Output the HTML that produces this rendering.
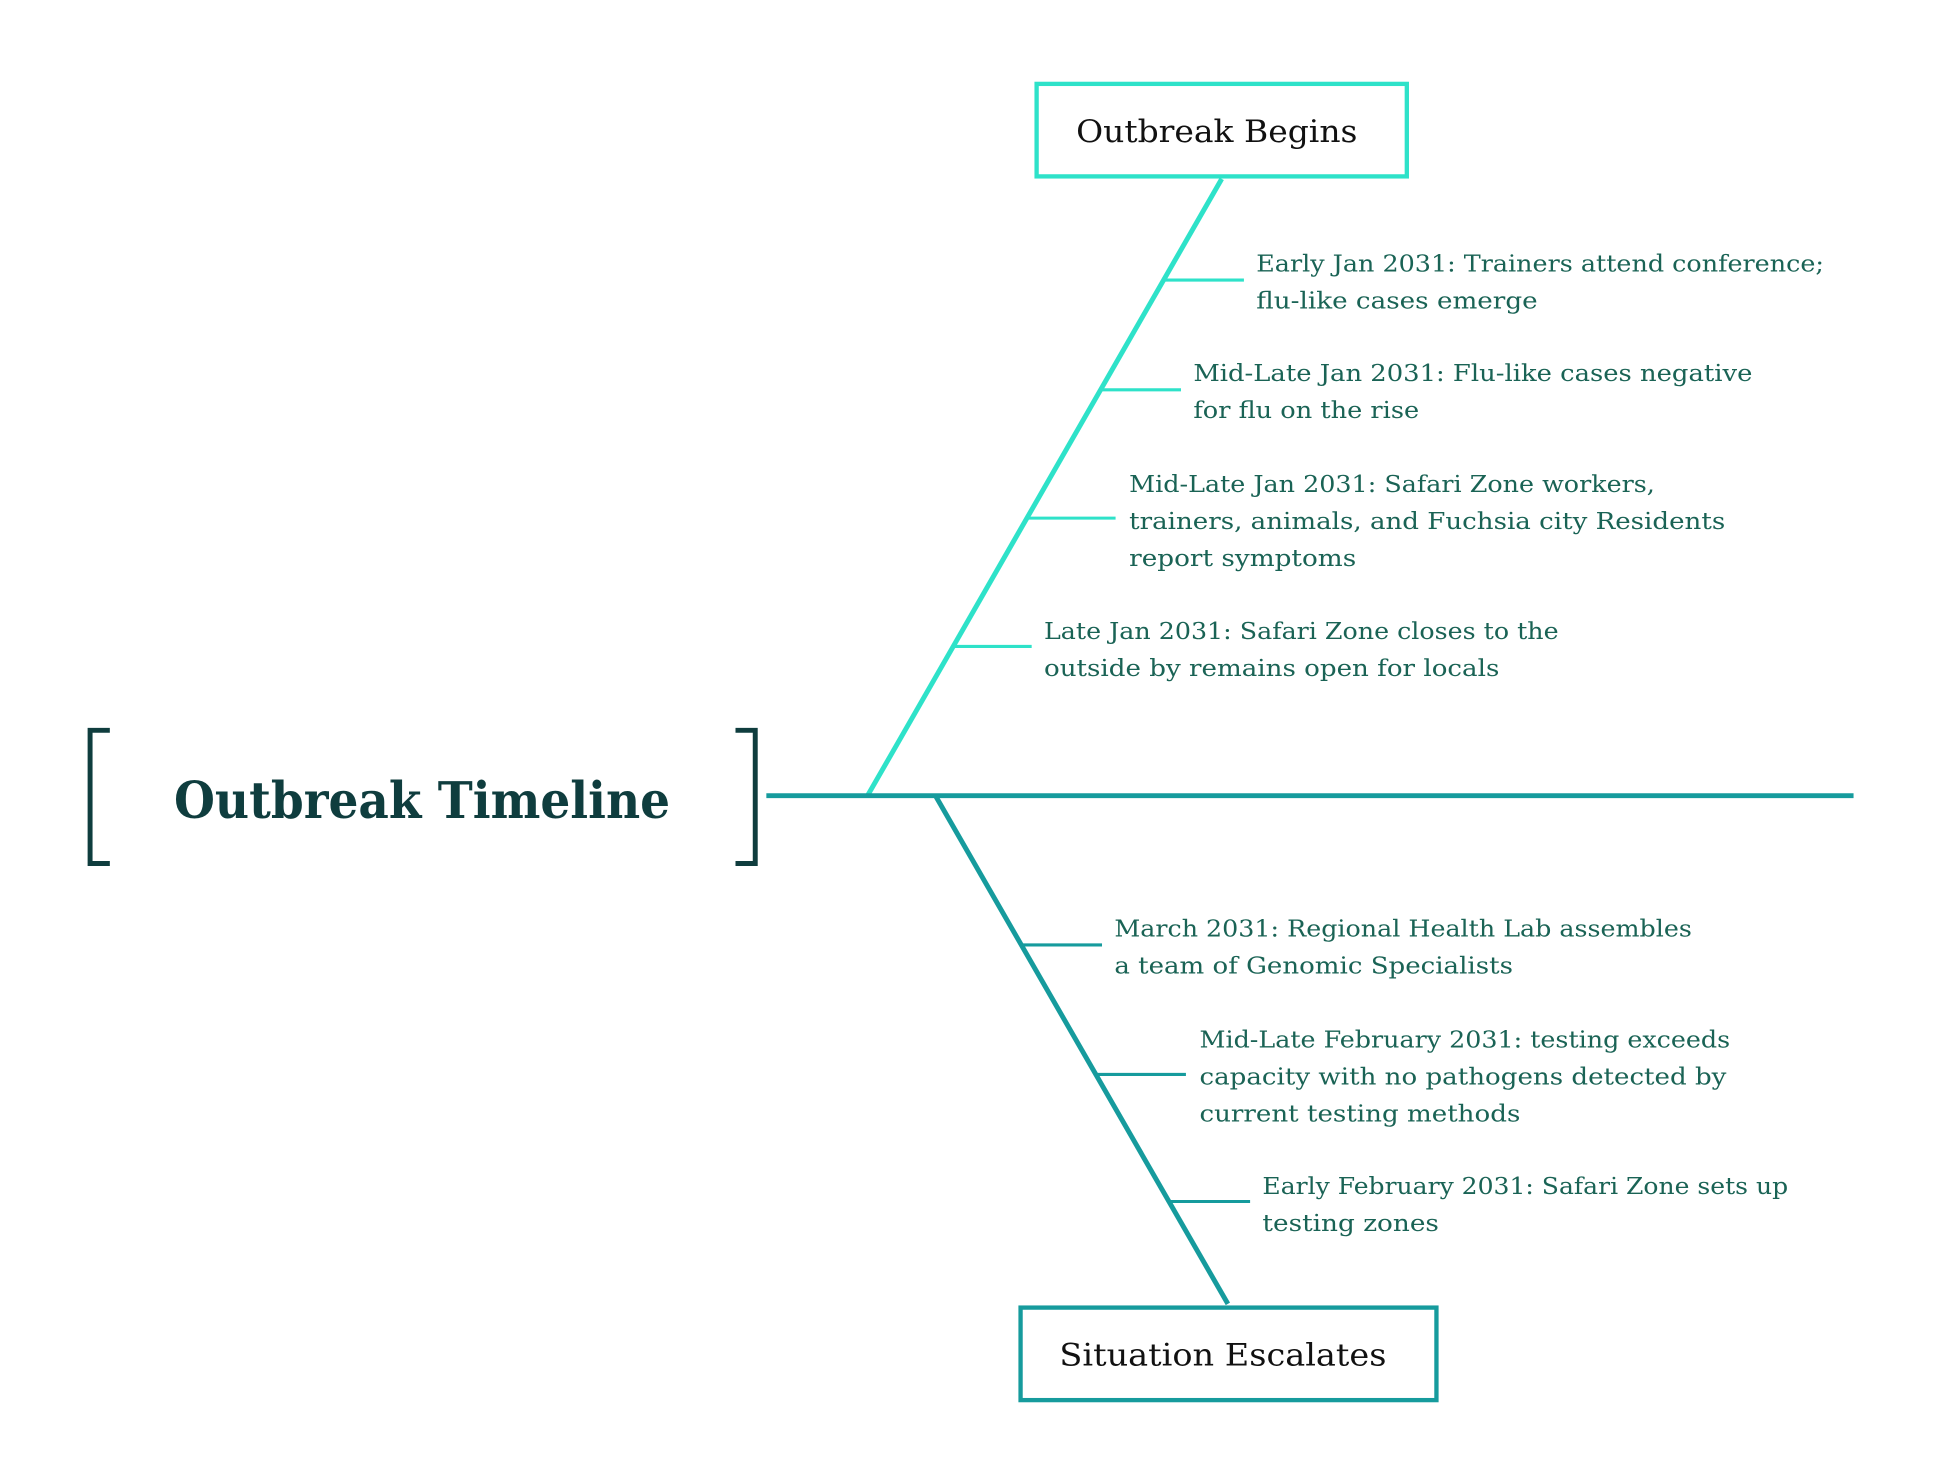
<!DOCTYPE html>
<html><head><style>html,body{margin:0;padding:0;background:#fff;}svg{display:block}</style></head>
<body>
<svg width="1935" height="1484" viewBox="0 0 1568 1203" preserveAspectRatio="none" xmlns="http://www.w3.org/2000/svg">
<g fill="none" stroke-linecap="butt">
<rect x="840" y="68" width="300" height="75" stroke="#2ee2c9" stroke-width="3.5"/>
<rect x="827" y="1060" width="337" height="75" stroke="#169b9d" stroke-width="3.5"/>
<line x1="990" y1="145" x2="703" y2="645" stroke="#2ee2c9" stroke-width="4"/>
<line x1="944" y1="227" x2="1008" y2="227" stroke="#2ee2c9" stroke-width="2.5"/>
<line x1="892" y1="316" x2="957" y2="316" stroke="#2ee2c9" stroke-width="2.5"/>
<line x1="832" y1="420" x2="904" y2="420" stroke="#2ee2c9" stroke-width="2.5"/>
<line x1="772" y1="524" x2="836" y2="524" stroke="#2ee2c9" stroke-width="2.5"/>
<line x1="621" y1="645" x2="1502" y2="645" stroke="#169b9d" stroke-width="4"/>
<line x1="758" y1="645" x2="995" y2="1057" stroke="#169b9d" stroke-width="4"/>
<line x1="829" y1="766" x2="893" y2="766" stroke="#169b9d" stroke-width="2.5"/>
<line x1="889" y1="871" x2="961" y2="871" stroke="#169b9d" stroke-width="2.5"/>
<line x1="948" y1="974" x2="1013" y2="974" stroke="#169b9d" stroke-width="2.5"/>
<polyline points="89,592 73,592 73,700 89,700" stroke="#0f3d3e" stroke-width="4"/>
<polyline points="596,592 612,592 612,700 596,700" stroke="#0f3d3e" stroke-width="4"/>
</g>
<g font-family="'DejaVu Serif','Liberation Serif',serif">
<text x="141" y="663" font-size="41" font-weight="bold" fill="#0f3d3e" textLength="402" lengthAdjust="spacingAndGlyphs">Outbreak Timeline</text>
<text x="986" y="115" font-size="25" fill="#111" text-anchor="middle" textLength="228" lengthAdjust="spacingAndGlyphs">Outbreak Begins</text>
<text x="991" y="1107" font-size="25" fill="#111" text-anchor="middle" textLength="265" lengthAdjust="spacingAndGlyphs">Situation Escalates</text>
</g>
<g font-family="'DejaVu Serif','Liberation Serif',serif" font-size="19" fill="#1a6355">
<text x="1018" y="220" textLength="460" lengthAdjust="spacingAndGlyphs">Early Jan 2031: Trainers attend conference;</text>
<text x="1018" y="250" textLength="228" lengthAdjust="spacingAndGlyphs">flu-like cases emerge</text>
<text x="967" y="309" textLength="453" lengthAdjust="spacingAndGlyphs">Mid-Late Jan 2031: Flu-like cases negative</text>
<text x="967" y="339" textLength="183" lengthAdjust="spacingAndGlyphs">for flu on the rise</text>
<text x="915" y="399" textLength="426" lengthAdjust="spacingAndGlyphs">Mid-Late Jan 2031: Safari Zone workers,</text>
<text x="915" y="429" textLength="483" lengthAdjust="spacingAndGlyphs">trainers, animals, and Fuchsia city Residents</text>
<text x="915" y="459" textLength="184" lengthAdjust="spacingAndGlyphs">report symptoms</text>
<text x="846" y="518" textLength="417" lengthAdjust="spacingAndGlyphs">Late Jan 2031: Safari Zone closes to the</text>
<text x="846" y="548" textLength="369" lengthAdjust="spacingAndGlyphs">outside by remains open for locals</text>
<text x="903" y="759" textLength="468" lengthAdjust="spacingAndGlyphs">March 2031: Regional Health Lab assembles</text>
<text x="903" y="789" textLength="323" lengthAdjust="spacingAndGlyphs">a team of Genomic Specialists</text>
<text x="972" y="849" textLength="430" lengthAdjust="spacingAndGlyphs">Mid-Late February 2031: testing exceeds</text>
<text x="972" y="879" textLength="427" lengthAdjust="spacingAndGlyphs">capacity with no pathogens detected by</text>
<text x="972" y="909" textLength="260" lengthAdjust="spacingAndGlyphs">current testing methods</text>
<text x="1023" y="968" textLength="426" lengthAdjust="spacingAndGlyphs">Early February 2031: Safari Zone sets up</text>
<text x="1023" y="998" textLength="143" lengthAdjust="spacingAndGlyphs">testing zones</text>
</g>
</svg>
</body></html>
